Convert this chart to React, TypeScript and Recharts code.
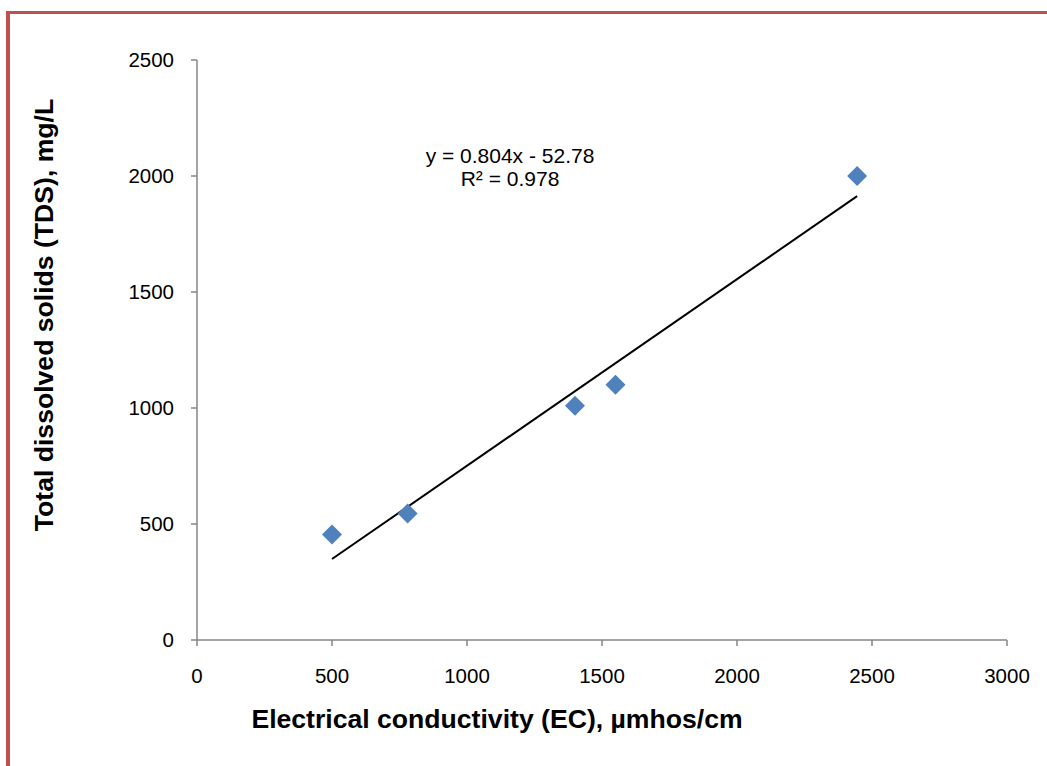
import {
  Customized,
  Label,
  Scatter,
  ScatterChart,
  XAxis,
  YAxis,
} from "recharts";

const ecValues = [500, 780, 1400, 1550, 2445];
const tdsValues = [455, 545, 1010, 1100, 2000];

const trendEc = [500, 2445];
const trendTds = [349, 1913];

const xTicks = [0, 500, 1000, 1500, 2000, 2500, 3000];
const yTicks = [0, 500, 1000, 1500, 2000, 2500];

const equationLines = ["y = 0.804x - 52.78", "R² = 0.978"];

const FONT = '"Liberation Sans", Arial, sans-serif';
const AXIS_GRAY = "#868686";

const points = ecValues.map((ec, i) => ({ ec, tds: tdsValues[i] }));
const trend = trendEc.map((ec, i) => ({ ec, tds: trendTds[i] }));


function Diamond(props: any) {
  const { cx, cy } = props;
  if (cx == null || cy == null) return null;
  const r = 10;
  return (
    <polygon
      points={`${cx},${cy - r} ${cx + r},${cy} ${cx},${cy + r} ${cx - r},${cy}`}
      fill="#4f81bd"
    />
  );
}


function Equation() {
  return (
    <text fontFamily={FONT} fontSize={21} fill="#000" textAnchor="middle">
      <tspan x={510} y={163}>{equationLines[0]}</tspan>
      <tspan x={510} y={186}>{equationLines[1]}</tspan>
    </text>
  );
}


export default function App() {
  return (
    <div
      style={{
        position: "absolute",
        left: 0,
        top: 0,
        width: 1047,
        height: 766,
        background: "#fff",
        overflow: "hidden",
      }}
    >
      <div
        style={{
          position: "absolute",
          left: 6,
          top: 11,
          width: 1047,
          height: 766,
          borderTop: "3px solid #c0504d",
          borderLeft: "4px solid #c0504d",
        }}
      />
      <div style={{ position: "absolute", left: 0, top: 0 }}>
        <ScatterChart
          width={1047}
          height={766}
          margin={{ top: 60, right: 40, bottom: 96, left: 137 }}
        >
          <XAxis
            type="number"
            dataKey="ec"
            domain={[0, 3000]}
            ticks={xTicks}
            height={30}
            allowDataOverflow
            stroke={AXIS_GRAY}
            strokeWidth={1.5}
            tickSize={6}
            tickMargin={22}
            tick={{ fill: "#000", fontSize: 20.5, fontFamily: FONT }}
          >
            <Label
              content={() => (
                <text
                  x={497}
                  y={728}
                  textAnchor="middle"
                  fontFamily={FONT}
                  fontSize={26.6}
                  fontWeight="bold"
                  fill="#000"
                >
                  Electrical conductivity (EC), µmhos/cm
                </text>
              )}
            />
          </XAxis>
          <YAxis
            type="number"
            dataKey="tds"
            domain={[0, 2500]}
            ticks={yTicks}
            width={60}
            allowDataOverflow
            stroke={AXIS_GRAY}
            strokeWidth={1.5}
            tickSize={6}
            tickMargin={17}
            tick={{ fill: "#000", fontSize: 20.5, fontFamily: FONT }}
          >
            <Label
              content={() => (
                <text
                  x={53}
                  y={315}
                  transform="rotate(-90, 53, 315)"
                  textAnchor="middle"
                  fontFamily={FONT}
                  fontSize={26.6}
                  fontWeight="bold"
                  fill="#000"
                >
                  Total dissolved solids (TDS), mg/L
                </text>
              )}
            />
          </YAxis>
          <Scatter
            data={trend}
            line={{ stroke: "#000", strokeWidth: 2 }}
            shape={() => null}
            isAnimationActive={false}
          />
          <Scatter
            data={points}
            shape={<Diamond />}
            isAnimationActive={false}
          />
          <Customized component={Equation} />
        </ScatterChart>
      </div>
    </div>
  );
}
